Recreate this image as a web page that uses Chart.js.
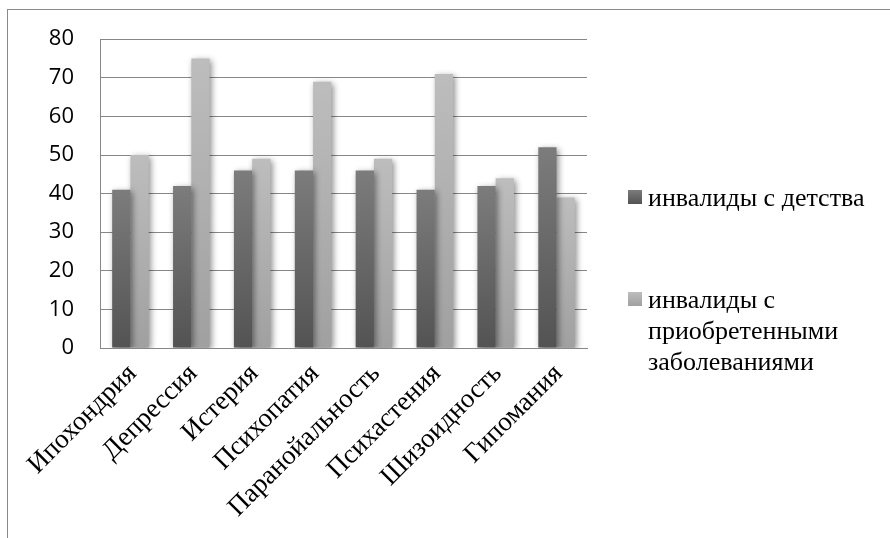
<!DOCTYPE html>
<html lang="ru">
<head>
<meta charset="utf-8">
<title>Инвалиды с детства и инвалиды с приобретенными заболеваниями</title>
<script src="https://cdn.jsdelivr.net/npm/chart.js@4.4.1/dist/chart.umd.min.js"></script>
<style>
  html, body { margin: 0; padding: 0; background: #ffffff; }
  #wrap { width: 890px; height: 538px; }
</style>
</head>
<body>
<div id="wrap"><canvas id="chart" width="890" height="538"></canvas></div>
<script>
// Scales of personality profile, by group
const categories = ['Ипохондрия', 'Депрессия', 'Истерия', 'Психопатия', 'Паранойальность', 'Психастения', 'Шизоидность', 'Гипомания'];
const seriesNames = ['инвалиды с детства', 'инвалиды с приобретенными заболеваниями'];
const fromChildhood = [41, 42, 46, 46, 46, 41, 42, 52];
const acquired = [50, 75, 49, 69, 49, 71, 44, 39];
const yTickValues = [0, 10, 20, 30, 40, 50, 60, 70, 80];

const serif = '"Liberation Serif", "Times New Roman", serif';

// Vertical shading for each bar: lighter at the top, darker at the base
const shades = [
  { top: '#7c7c7c', bottom: '#535353' },
  { top: '#bdbdbd', bottom: '#a0a0a0' }
];

function barFill(shade) {
  return (c) => {
    const chart = c.chart;
    const area = chart.chartArea;
    if (!area || c.type !== 'data' || !chart.scales.y) return shade.bottom;
    const yTop = chart.scales.y.getPixelForValue(c.raw);
    const g = chart.ctx.createLinearGradient(0, yTop, 0, area.bottom);
    g.addColorStop(0, shade.top);
    g.addColorStop(1, shade.bottom);
    return g;
  };
}

// Outer frame of the chart object
const framePlugin = {
  id: 'frame',
  beforeDraw(chart) {
    const ctx = chart.ctx;
    ctx.save();
    ctx.fillStyle = '#ffffff';
    ctx.fillRect(0, 0, chart.width, chart.height);
    ctx.strokeStyle = '#8a8a8a';
    ctx.lineWidth = 1;
    ctx.strokeRect(7.5, 9.5, chart.width + 10, chart.height + 10);
    ctx.restore();
  }
};

// Soft drop shadow behind the bars
const shadowPlugin = {
  id: 'barShadow',
  beforeDatasetsDraw(chart) {
    const ctx = chart.ctx;
    ctx.save();
    ctx.shadowColor = 'rgba(0,0,0,0.45)';
    ctx.shadowBlur = 6;
    ctx.shadowOffsetX = 2;
    ctx.shadowOffsetY = 2;
  },
  afterDatasetsDraw(chart) {
    chart.ctx.restore();
  }
};

// Legend on the right with wrapped labels
const sideLegend = {
  id: 'sideLegend',
  afterDraw(chart) {
    const ctx = chart.ctx;
    const font = '26px ' + serif;
    const boxX = 628, box = 14, textX = 648, maxW = 238, lineH = 31;
    const firstBaselines = [206, 308];
    ctx.save();
    ctx.font = font;
    ctx.textBaseline = 'alphabetic';
    ctx.textAlign = 'left';
    chart.data.datasets.forEach((ds, i) => {
      const words = ds.label.split(' ');
      const lines = [];
      let cur = '';
      words.forEach(w => {
        const trial = cur ? cur + ' ' + w : w;
        if (cur && ctx.measureText(trial).width > maxW) {
          lines.push(cur);
          cur = w;
        } else {
          cur = trial;
        }
      });
      if (cur) lines.push(cur);
      const base = firstBaselines[i];
      const g = ctx.createLinearGradient(0, base - 16, 0, base - 2);
      g.addColorStop(0, shades[i].top);
      g.addColorStop(1, shades[i].bottom);
      ctx.fillStyle = g;
      ctx.fillRect(boxX, base - 16, box, box);
      ctx.fillStyle = '#000000';
      lines.forEach((ln, k) => ctx.fillText(ln, textX, base + k * lineH));
    });
    ctx.restore();
  }
};

new Chart(document.getElementById('chart'), {
  type: 'bar',
  data: {
    labels: categories,
    datasets: [
      { label: seriesNames[0], data: fromChildhood, backgroundColor: barFill(shades[0]), borderWidth: 0 },
      { label: seriesNames[1], data: acquired, backgroundColor: barFill(shades[1]), borderWidth: 0 }
    ]
  },
  options: {
    responsive: false,
    devicePixelRatio: 1,
    animation: false,
    layout: { padding: { left: 0, top: 39, right: 303, bottom: 0 } },
    datasets: { bar: { categoryPercentage: 0.6, barPercentage: 1.0 } },
    plugins: {
      legend: { display: false },
      tooltip: { enabled: false },
      title: { display: false }
    },
    scales: {
      x: {
        afterFit(scale) { scale.height = 190; },
        grid: { display: false, drawTicks: false },
        border: { display: true, color: '#878787', width: 1 },
        ticks: {
          color: '#000000',
          minRotation: 45,
          maxRotation: 45,
          autoSkip: false,
          padding: 10,
          labelOffset: 2,
          font: { family: serif, size: 27 }
        }
      },
      y: {
        min: 0,
        max: 80,
        afterFit(scale) { scale.width = 100; },
        afterBuildTicks(scale) { scale.ticks = yTickValues.map(v => ({ value: v })); },
        grid: { color: '#878787', lineWidth: 1, drawTicks: false },
        border: { display: true, color: '#878787', width: 1 },
        ticks: {
          color: '#000000',
          padding: 26,
          font: { family: '"Open Sans", "Liberation Sans", sans-serif', size: 22 }
        }
      }
    }
  },
  plugins: [framePlugin, shadowPlugin, sideLegend]
});
</script>
</body>
</html>
